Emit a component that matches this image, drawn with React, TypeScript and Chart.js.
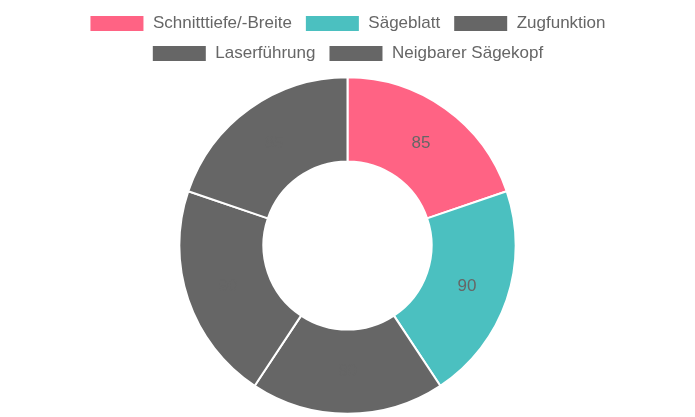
import React, { useEffect, useRef } from "react";
import { Chart, registerables } from "chart.js";

Chart.register(...registerables);

const categories = ["Schnitttiefe/-Breite", "Sägeblatt", "Zugfunktion", "Laserführung", "Neigbarer Sägekopf"];
const values = [85, 90, 80, 90, 85];
const colors = ["#FF6384", "#4BC0C0", "#666666", "#666666", "#666666"];

const FONT = "Arial, 'Liberation Sans', Helvetica, sans-serif";

const valueLabels = {
  id: "valueLabels",
  afterDatasetsDraw(chart: any) {
    const ctx = chart.ctx;
    const meta = chart.getDatasetMeta(0);
    const data = chart.data.datasets[0].data as number[];
    ctx.save();
    ctx.font = `17px ${FONT}`;
    ctx.fillStyle = "#666666";
    ctx.textAlign = "center";
    ctx.textBaseline = "middle";
    meta.data.forEach((arc: any, i: number) => {
      const p = arc.tooltipPosition();
      ctx.fillText(String(data[i]), p.x, p.y);
    });
    ctx.restore();
  },
};

export default function App() {
  const ref = useRef<HTMLCanvasElement | null>(null);
  useEffect(() => {
    document.body.style.margin = "0";
    if (!ref.current) return;
    const chart = new Chart(ref.current, {
      type: "doughnut",
      data: {
        labels: categories,
        datasets: [
          {
            data: values,
            backgroundColor: colors,
            borderColor: "#ffffff",
            borderWidth: 2,
          },
        ],
      },
      options: {
        responsive: false,
        animation: false,
        cutout: "50%",
        radius: "97.5%",
        layout: { padding: { top: 2 } },
        plugins: {
          legend: {
            position: "top",
            labels: {
              color: "#666666",
              font: { size: 17, family: FONT },
              boxWidth: 55,
              padding: 13,
            },
          },
          tooltip: { enabled: false },
        },
      },
      plugins: [valueLabels],
    });
    return () => chart.destroy();
  }, []);
  return (
    <div style={{ width: 695, height: 417, overflow: "hidden" }}>
      <canvas ref={ref} width={695} height={419} style={{ width: 695, height: 419, display: "block" }} />
    </div>
  );
}
